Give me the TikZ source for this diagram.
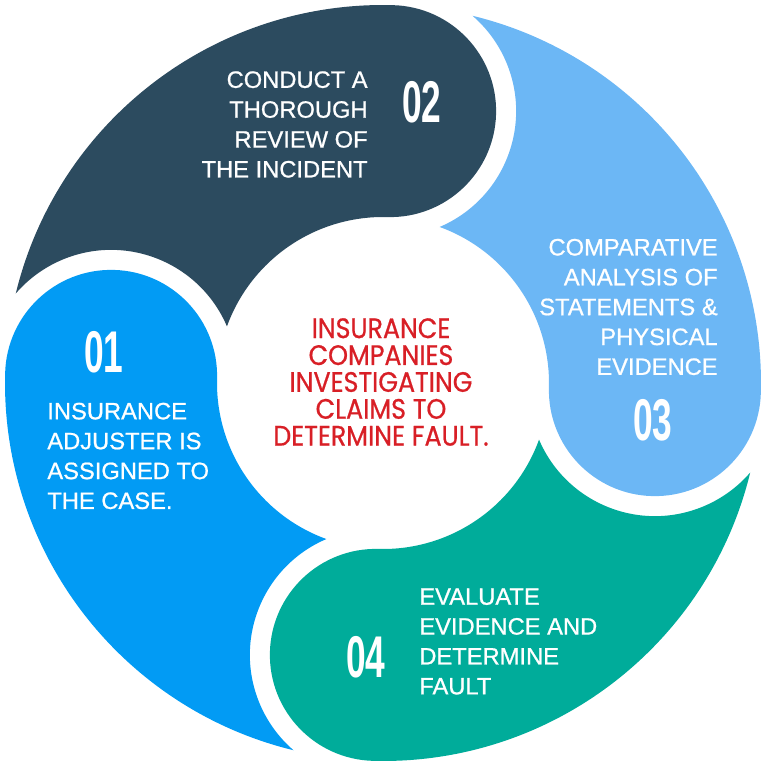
\documentclass[tikz,border=0pt]{standalone}
\usepackage{fontspec}
\setmainfont{Liberation Sans}[FakeBold=0.8]
\newfontfamily\numfont[FakeStretch=0.6]{Liberation Sans}
\newfontfamily\midfont[FakeStretch=0.9,FakeBold=0.7]{Poppins}
\usepackage{tikz}
\usepackage{xcolor}
\definecolor{stepdark}{HTML}{2C4B5F}
\definecolor{steplight}{HTML}{6CB7F5}
\definecolor{stepteal}{HTML}{00AC9A}
\definecolor{stepblue}{HTML}{029BF4}
\definecolor{midred}{HTML}{D81F26}

\begin{document}
\begin{tikzpicture}[x=0.02cm,y=0.02cm,
  steptext/.style={text=white,inner sep=0,font=\fontsize{13.5}{17}\selectfont},
  stepnum/.style={text=white,inner sep=0,font=\numfont\bfseries\fontsize{33.5}{34}\selectfont},
  midtext/.style={text=midred,inner sep=0,align=center,font=\midfont\fontsize{16}{15.3}\selectfont}]
\useasboundingbox (-383,-382) rectangle (382,383);

% the four swirl pieces (head angle / colour)
\foreach \t/\c in {88.5/stepdark, -1.5/steplight, -91.5/stepteal, 178.5/stepblue}{
  \pgfmathsetmacro\a{\t+77.81}
  \pgfmathsetmacro\e{\t-180}
  \pgfmathsetmacro\b{\t+71.55}
  \pgfmathsetmacro\g{\t-65.36}
  \pgfmathsetmacro\h{\t+50.68}
  \fill[\c] (\a:378) arc[start angle=\a, end angle=\t, radius=378]
    arc[start angle=\t, end angle=\e, radius=106]
    arc[start angle=\t, end angle=\b, radius=166]
    arc[start angle=\g, end angle=\h, radius=126] -- cycle;
}

% numbers
\node[stepnum] (n01) at (-279,31) {01};
\node[stepnum] (n02) at (39,281) {02};
\node[stepnum] (n03) at (270,-37) {03};
\node[stepnum] (n04) at (-17,-274) {04};

% step texts
\node[steptext,anchor=west,align=left] (s01) at (-336,-73) {INSURANCE\\ADJUSTER IS\\ASSIGNED TO\\THE CASE.};
\node[steptext,anchor=east,align=right] (s02) at (-15,258.5) {CONDUCT A\\THOROUGH\\REVIEW OF\\THE INCIDENT};
\node[steptext,anchor=east,align=right] (s03) at (335,76) {COMPARATIVE\\ANALYSIS OF\\STATEMENTS \&\\PHYSICAL\\EVIDENCE};
\node[steptext,anchor=west,align=left] (s04) at (36,-258.5) {EVALUATE\\EVIDENCE AND\\DETERMINE\\FAULT};

% centre
\node[midtext] (mid) at (-2,1) {INSURANCE\\COMPANIES\\INVESTIGATING\\CLAIMS TO\\DETERMINE FAULT.};
\end{tikzpicture}
\end{document}
